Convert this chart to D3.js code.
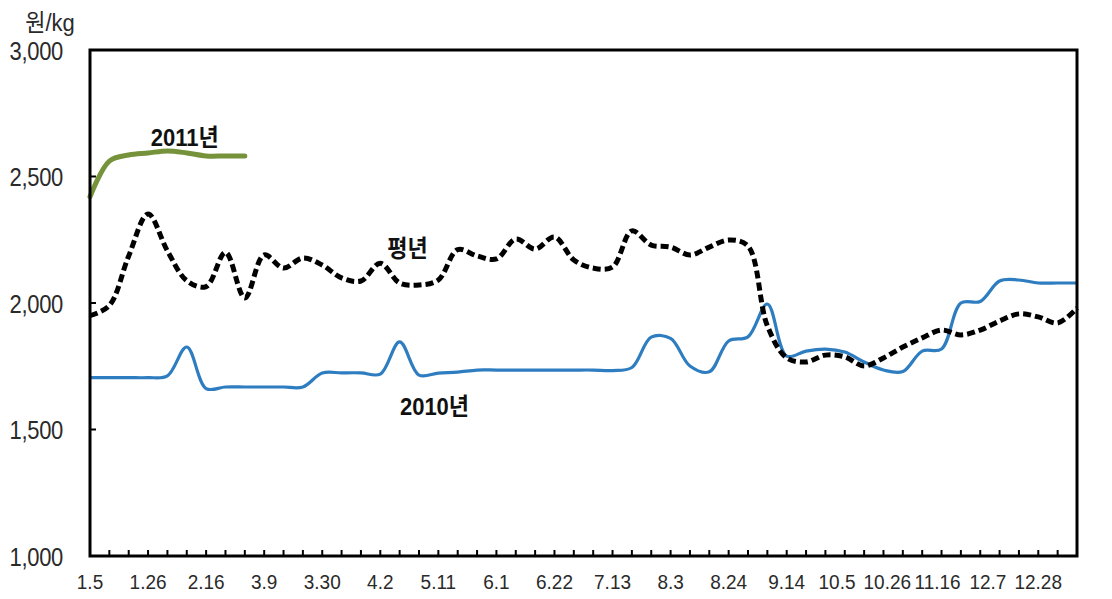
<!DOCTYPE html>
<html><head><meta charset="utf-8">
<script src="https://cdn.jsdelivr.net/npm/d3@7"></script>
<style>
html,body{margin:0;padding:0;background:#fff;}
svg text{font-family:"Liberation Sans","Noto Sans CJK KR",Arial,sans-serif;}
</style>
</head><body>
<svg id="chart" width="1112" height="599"></svg>
<script>
// ---- data ----
const weeks = ["1.5","1.12","1.19","1.26","2.2","2.9","2.16","2.23","3.2","3.9","3.16","3.23","3.30",
  "4.6","4.13","4.2","4.27","5.4","5.11","5.18","5.25","6.1","6.8","6.15","6.22","6.29",
  "7.6","7.13","7.20","7.27","8.3","8.10","8.17","8.24","8.31","9.7","9.14","9.21","9.28",
  "10.5","10.12","10.19","10.26","11.2","11.9","11.16","11.23","11.30","12.7","12.14","12.21","12.28"];
const labelEvery = 3;
const yTicks = [1000, 1500, 2000, 2500, 3000];

const normalYear = [1950,1990,2186,2352,2206,2088,2065,2200,2020,2190,2138,2178,2150,2099,2087,2157,2079,2071,2091,
  2211,2186,2174,2253,2213,2261,2170,2138,2142,2285,2229,2221,2190,2221,2249,2225,1910,1783,1767,1794,1787,
  1751,1783,1826,1862,1893,1874,1893,1929,1957,1945,1921,1980];
const y2010 = [1705,1705,1705,1705,1712,1826,1662,1668,1668,1668,1668,1668,1723,1724,1724,1719,1846,1715,1723,
  1727,1735,1735,1735,1735,1735,1735,1735,1733,1745,1865,1860,1751,1728,1850,1866,1996,1790,1810,1818,1806,
  1767,1735,1729,1810,1818,2000,2006,2087,2091,2079,2079,2079];
const y2011 = [2420,2561,2585,2593,2601,2593,2581,2581,2581];

const seriesLabels = [
  {text:"2011년", idx:4.9, v:2655},
  {text:"평년", idx:16.4, v:2217},
  {text:"2010년", idx:17.8, v:1590}
];

// ---- layout ----
const svg = d3.select("#chart");
const L = 90, R = 1077, T = 50, B = 556;
const x = d3.scaleLinear().domain([0, weeks.length - 1]).range([L, R]);
const y = d3.scaleLinear().domain([1000, 3000]).range([B, T]);

svg.append("rect").attr("width",1112).attr("height",599).attr("fill","#fff");

// y tick labels
svg.append("g").selectAll("text").data(yTicks).join("text")
  .attr("transform", d => `translate(63,${y(d)}) scale(1,1.2)`)
  .attr("dy","0.36em")
  .attr("text-anchor","end").attr("font-size",22).attr("fill","#2a2a2a")
  .attr("letter-spacing","-0.3")
  .text(d => d3.format(",")(d));
svg.append("text").attr("transform","translate(50,31) scale(1,1.1)").attr("text-anchor","middle")
  .attr("font-size",22).attr("fill","#2a2a2a").text("원/kg");

// inner y ticks
svg.append("g").selectAll("line").data(yTicks.slice(1,-1)).join("line")
  .attr("x1",L).attr("x2",L+6).attr("y1",d=>y(d)).attr("y2",d=>y(d))
  .attr("stroke","#000").attr("stroke-width",2);

// inner x ticks
svg.append("g").selectAll("line").data(d3.range(1, weeks.length-1)).join("line")
  .attr("x1",d=>x(d)).attr("x2",d=>x(d)).attr("y1",B).attr("y2",B-6)
  .attr("stroke","#000").attr("stroke-width",2);

// x labels (every 3rd) with Excel-like squeezing at the right edge
const labIdx = d3.range(0, weeks.length, labelEvery);
const xl = svg.append("g").selectAll("text").data(labIdx).join("text")
  .attr("text-anchor","middle").attr("font-size",19).attr("fill","#2a2a2a").text(d => weeks[d]);
const nodes = xl.nodes();
const widths = nodes.map(n => n.getComputedTextLength());
const n = nodes.length;
const pos = labIdx.map(d => x(d));
const lastC = Math.min(pos[n-1], 1062 - widths[n-1]/2);
let final = pos.slice();
for (let m = 1; m < n; m++) {
  const a = n - 1 - m;
  const step = (lastC - pos[a]) / m;
  const trial = pos.slice();
  for (let k = a; k < n; k++) trial[k] = pos[a] + step * (k - a);
  let ok = true;
  for (let k = a; k < n-1; k++) {
    if (trial[k] + widths[k]/2 + 3 > trial[k+1] - widths[k+1]/2) { ok = false; break; }
  }
  if (ok) { final = trial; break; }
}
xl.attr("transform", (d,i) => `translate(${final[i]},589) scale(1,1.1)`);

// lines
const line = d3.line().x((d,i)=>x(i)).y(d=>y(d)).curve(d3.curveCatmullRom.alpha(0.5));
svg.append("path").datum(y2010).attr("d",line).attr("fill","none")
  .attr("stroke","#2e7dc0").attr("stroke-width",3.2);
svg.append("path").datum(normalYear).attr("d",line).attr("fill","none")
  .attr("stroke","#000").attr("stroke-width",5).attr("stroke-dasharray","8,4");
svg.append("path").datum(y2011).attr("d",line).attr("fill","none")
  .attr("stroke","#76933c").attr("stroke-width",5).attr("stroke-linecap","round");

// frame
svg.append("rect").attr("x",L).attr("y",T).attr("width",R-L).attr("height",B-T)
  .attr("fill","none").attr("stroke","#000").attr("stroke-width",3);

// series labels
svg.append("g").selectAll("text").data(seriesLabels).join("text")
  .attr("transform", d => `translate(${x(d.idx)},${y(d.v)}) scale(1,1.1)`)
  .attr("text-anchor","middle")
  .attr("dy","0.36em").attr("font-size",22).attr("font-weight","bold").attr("fill","#111")
  .text(d => d.text);
</script>
</body></html>
